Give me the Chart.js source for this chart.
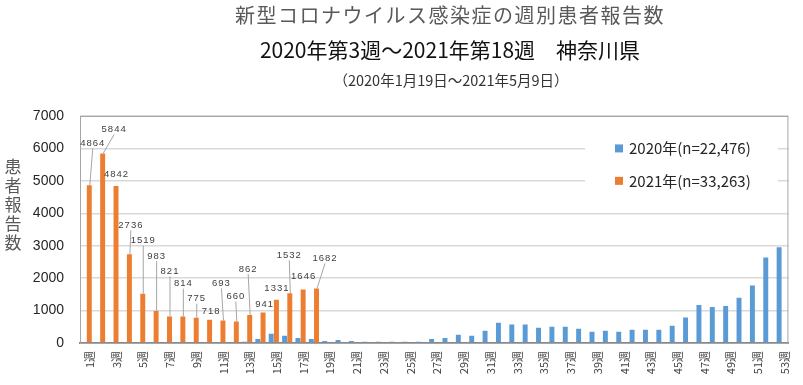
<!DOCTYPE html>
<html lang="ja">
<head>
<meta charset="utf-8">
<title>神奈川県 週別患者報告数</title>
<script src="https://cdn.jsdelivr.net/npm/chart.js@4/dist/chart.umd.min.js"></script>
<style>
  html, body { margin: 0; padding: 0; background: #fff; }
  #wrap { width: 803px; height: 385px; }
</style>
</head>
<body>
<div id="wrap"><canvas id="weeklyChart" width="803" height="385"></canvas></div>
<script>
// week categories
const weeks = ['1週','2週','3週','4週','5週','6週','7週','8週','9週','10週',
  '11週','12週','13週','14週','15週','16週','17週','18週','19週','20週',
  '21週','22週','23週','24週','25週','26週','27週','28週','29週','30週',
  '31週','32週','33週','34週','35週','36週','37週','38週','39週','40週',
  '41週','42週','43週','44週','45週','46週','47週','48週','49週','50週',
  '51週','52週','53週'];

// 2020 weekly counts (no data for weeks 1-2)
const cases2020 = [null, null, 20, 0, 0, 2, 25, 30, 30, 30,
  30, 30, 40, 123, 287, 225, 158, 123, 65, 95,
  65, 42, 40, 40, 40, 40, 123, 153, 255, 225,
  378, 623, 572, 572, 470, 503, 503, 441, 349, 380,
  349, 410, 410, 410, 534, 790, 1170, 1108, 1139, 1395,
  1775, 2637, 2955];

// 2021 weekly counts (labelled in the chart)
const cases2021 = [4864, 5844, 4842, 2736, 1519, 983, 821, 814, 775, 718,
  693, 660, 862, 941, 1331, 1532, 1646, 1682];

const seriesNames = ['2020年(n=22,476)', '2021年(n=33,263)'];
const yTicks = [0, 1000, 2000, 3000, 4000, 5000, 6000, 7000];

const titleLines = [
  '新型コロナウイルス感染症の週別患者報告数',
  '2020年第3週～2021年第18週　神奈川県',
  '（2020年1月19日～2021年5月9日）'
];
const yTitle = '患者報告数';

// where each 2021 label sits, px offset from the bar top [dx, dy]
const labelOffsets = [[3,-42],[11,-24],[0,-12],[1,-29],[0,-53],[0,-55],[0,-45],[0,-33],[0,-19],[1,-8],
  [-2,-37],[-1,-25],[-2,-46],[1,-8],[0,-11],[-1,-38],[0,-13],[8,-30]];

const BLUE = '#5b9bd5';
const ORANGE = '#ed7d31';

const titles = {
  id: 'titles',
  afterDraw(chart) {
    const c = chart.ctx;
    c.save();
    c.textAlign = 'center';
    c.textBaseline = 'middle';
    c.letterSpacing = '1.5px';
    c.fillStyle = '#595959';
    c.font = '20px "Noto Sans CJK JP", sans-serif';
    c.fillText(titleLines[0], 450, 15);
    c.letterSpacing = '0px';
    c.fillStyle = '#111';
    c.font = '21px "Noto Sans CJK JP", sans-serif';
    c.fillText(titleLines[1], 450, 50);
    c.fillStyle = '#333';
    c.font = '14.5px "Noto Sans CJK JP", sans-serif';
    c.fillText(titleLines[2], 451, 80);

    // stacked y axis title
    c.fillStyle = '#595959';
    c.font = '17px "Noto Sans CJK JP", sans-serif';
    [...yTitle].forEach((ch, i) => c.fillText(ch, 13, 167 + i * 19));
    c.restore();
  }
};

const frame = {
  id: 'frame',
  beforeDatasetsDraw(chart) {
    const a = chart.chartArea;
    const c = chart.ctx;
    c.save();
    c.strokeStyle = '#a6a6a6';
    c.lineWidth = 1;
    c.strokeRect(a.left + 0.5, a.top + 0.5, a.right - a.left - 1, a.bottom - a.top);
    c.restore();
  }
};

const legendBox = {
  id: 'legendBox',
  afterDatasetsDraw(chart) {
    const c = chart.ctx;
    const y = chart.scales.y;
    c.save();
    c.fillStyle = '#fff';
    c.fillRect(585, 133, 193, 63);
    c.font = '15px "Noto Sans CJK JP", sans-serif';
    c.textBaseline = 'middle';
    c.textAlign = 'left';
    chart.data.datasets.forEach((ds, i) => {
      const cy = y.getPixelForValue(6000 - i * 1000);
      c.fillStyle = ds.backgroundColor;
      c.fillRect(615, cy - 4, 8, 8);
      c.fillStyle = '#262626';
      c.fillText(ds.label, 629, cy);
    });
    c.restore();
  }
};

const barLabels = {
  id: 'barLabels',
  afterDatasetsDraw(chart) {
    const c = chart.ctx;
    const meta = chart.getDatasetMeta(1);
    c.save();
    c.font = '9.5px "Liberation Sans", sans-serif';
    c.letterSpacing = '1px';
    c.textAlign = 'center';
    c.textBaseline = 'middle';
    meta.data.forEach((bar, i) => {
      const off = labelOffsets[i];
      const lx = bar.x + off[0];
      const ly = bar.y + off[1];
      if (off[1] < -16) {
        c.strokeStyle = '#a6a6a6';
        c.lineWidth = 1;
        c.beginPath();
        c.moveTo(lx + 0.5, ly + 5);
        c.lineTo(bar.x + 0.5, bar.y);
        c.stroke();
      }
      c.fillStyle = '#404040';
      c.fillText(String(cases2021[i]), lx + 0.5, ly);
    });
    c.restore();
  }
};

new Chart(document.getElementById('weeklyChart'), {
  type: 'bar',
  data: {
    labels: weeks,
    datasets: [
      { label: seriesNames[0], data: cases2020, backgroundColor: BLUE },
      { label: seriesNames[1], data: cases2021, backgroundColor: ORANGE }
    ]
  },
  options: {
    responsive: false,
    animation: false,
    layout: { padding: { top: 116, right: 7, left: 0, bottom: 0 } },
    datasets: { bar: { categoryPercentage: 0.78, barPercentage: 0.95 } },
    plugins: {
      legend: { display: false },
      tooltip: { enabled: false }
    },
    scales: {
      x: {
        afterFit(s) { s.height = 42; },
        grid: { display: false, drawTicks: false },
        border: { color: '#898989', width: 2 },
        ticks: {
          autoSkip: false,
          minRotation: 90,
          maxRotation: 90,
          labelOffset: 3,
          padding: 8,
          color: '#404040',
          font: { family: '"Noto Sans CJK JP", sans-serif', size: 11 },
          callback: (v, i) => (i % 2 === 0 ? weeks[i] : '')
        }
      },
      y: {
        min: 0,
        max: 7000,
        afterFit(s) { s.width = 80; },
        afterBuildTicks(s) { s.ticks = yTicks.map(v => ({ value: v })); },
        grid: { color: '#d9d9d9', lineWidth: 1.5, drawTicks: false },
        border: { display: false },
        ticks: {
          padding: 16,
          color: '#262626',
          font: { family: '"Liberation Sans", sans-serif', size: 14 },
          callback: v => String(v)
        }
      }
    }
  },
  plugins: [titles, frame, legendBox, barLabels]
});
</script>
</body>
</html>
